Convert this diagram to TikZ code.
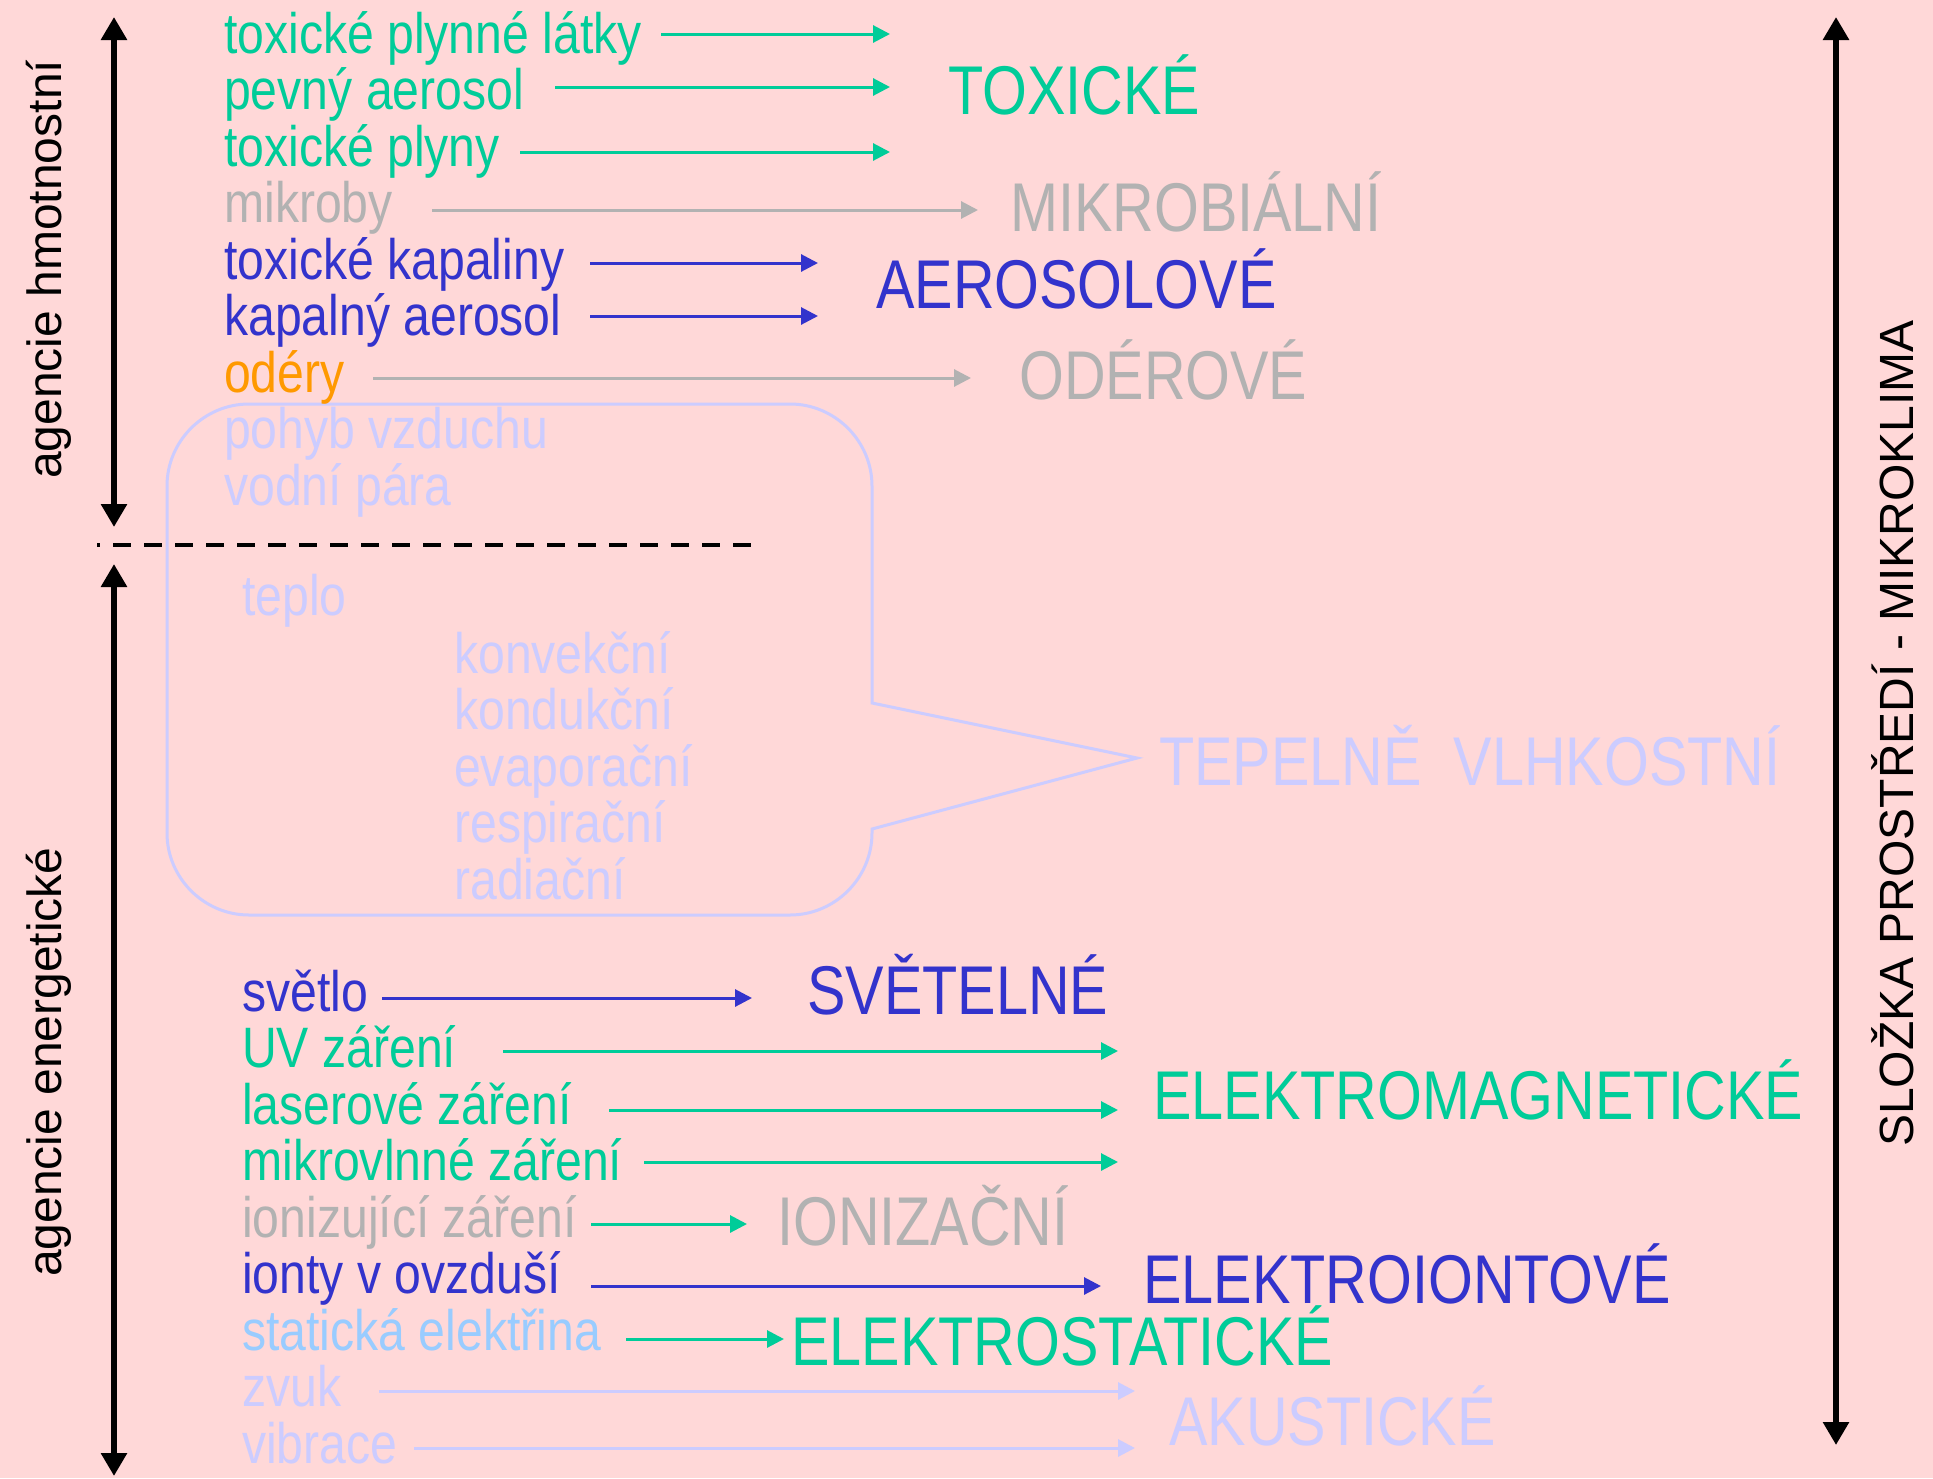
\documentclass[tikz,border=0pt]{standalone}
\usepackage{fontspec}
\usetikzlibrary{arrows.meta}
\newfontfamily\narrowfont[FakeStretch=0.845]{Liberation Sans}
\newfontfamily\bigfont[FakeStretch=0.835]{Liberation Sans}
\newfontfamily\arialfont{Liberation Sans}
\definecolor{bgpink}{HTML}{FFD8D8}
\definecolor{cgreen}{HTML}{00CC99}
\definecolor{cblue}{HTML}{3333CC}
\definecolor{cgray}{HTML}{B2B2B2}
\definecolor{corange}{HTML}{FF9900}
\definecolor{clav}{HTML}{CCCCFF}
\definecolor{clblue}{HTML}{99CCFF}
\tikzset{
  lbl/.style={anchor=base west, inner sep=0pt, font=\narrowfont\fontsize{57}{57}\selectfont},
  big/.style={anchor=base west, inner sep=0pt, font=\bigfont\fontsize{69}{69}\selectfont},
  rot/.style={anchor=base west, inner sep=0pt, rotate=90, font=\arialfont\fontsize{48}{48}\selectfont},
  conn/.style={line width=3pt, -{Triangle[length=17pt,width=17pt]}},
  axis/.style={line width=6.5pt, {Triangle[length=23pt,width=25pt]}-{Triangle[length=23pt,width=25pt]}},
  callout/.style={draw=clav, line width=3pt}
}
\begin{document}
\begin{tikzpicture}[x=1pt,y=-1pt]
\fill[bgpink] (0,0) rectangle (1933,1478);
\useasboundingbox (0,0) rectangle (1933,1478);

% callout
\draw[callout] (249,404) -- (790,404) .. controls (835,404) and (872,441) .. (872,486)
  -- (872,703) -- (1137,758) -- (872,829) -- (872,833)
  .. controls (872,878) and (835,915) .. (790,915) -- (249,915)
  .. controls (204,915) and (167,878) .. (167,833) -- (167,486)
  .. controls (167,441) and (204,404) .. (249,404) -- cycle;

% axes
\coordinate (u1) at (114,17); \coordinate (u2) at (114,527);
\coordinate (d1) at (114,564); \coordinate (d2) at (114,1476);
\coordinate (r1) at (1836,17); \coordinate (r2) at (1836,1445);
\draw[axis] (u1) -- (u2);
\draw[axis] (d1) -- (d2);
\draw[axis] (r1) -- (r2);
\coordinate (ds1) at (97,545); \coordinate (ds2) at (751,545);
\draw[line width=4.5pt, dash pattern=on 18pt off 13pt, dash phase=15pt] (ds1) -- (ds2);

% rotated labels
\node[rot] (lh) at (61,479) {agencie hmotnostní};
\node[rot] (le) at (61,1277) {agencie energetické};
\node[rot] (lr) at (1913,1147) {SLOŽKA PROSTŘEDÍ - MIKROKLIMA};

% top list
\node[lbl, text=cgreen] (t1) at (224,53) {toxické plynné látky};
\node[lbl, text=cgreen] (t2) at (224,109.5) {pevný aerosol};
\node[lbl, text=cgreen] (t3) at (224,166) {toxické plyny};
\node[lbl, text=cgray] (t4) at (224,222.5) {mikroby};
\node[lbl, text=cblue] (t5) at (224,279) {toxické kapaliny};
\node[lbl, text=cblue] (t6) at (224,335.5) {kapalný aerosol};
\node[lbl, text=corange] (t7) at (224,392) {odéry};
\node[lbl, text=clav] (t8) at (224,448.5) {pohyb vzduchu};
\node[lbl, text=clav] (t9) at (224,505) {vodní pára};

% heat
\node[lbl, text=clav] (h0) at (242,615) {teplo};
\node[lbl, text=clav] (h1) at (454,673) {konvekční};
\node[lbl, text=clav] (h2) at (454,729.5) {kondukční};
\node[lbl, text=clav] (h3) at (454,786) {evaporační};
\node[lbl, text=clav] (h4) at (454,842.5) {respirační};
\node[lbl, text=clav] (h5) at (454,899) {radiační};

% bottom list
\node[lbl, text=cblue] (b1) at (242,1011) {světlo};
\node[lbl, text=cgreen] (b2) at (242,1067.5) {UV záření};
\node[lbl, text=cgreen] (b3) at (242,1124) {laserové záření};
\node[lbl, text=cgreen] (b4) at (242,1180.5) {mikrovlnné záření};
\node[lbl, text=cgray] (b5) at (242,1237) {ionizující záření};
\node[lbl, text=cblue] (b6) at (242,1293.5) {ionty v ovzduší};
\node[lbl, text=clblue] (b7) at (242,1350) {statická elektřina};
\node[lbl, text=clav] (b8) at (242,1406.5) {zvuk};
\node[lbl, text=clav] (b9) at (242,1463) {vibrace};

% categories
\node[big, text=cgreen] (cTox) at (948,114) {TOXICKÉ};
\node[big, text=cgray] (cMik) at (1010,231) {MIKROBIÁLNÍ};
\node[big, text=cblue] (cAer) at (876,308) {AEROSOLOVÉ};
\node[big, text=cgray] (cOde) at (1019,399) {ODÉROVÉ};
\node[big, text=clav] (cTep) at (1159,785) {TEPELNĚ~~VLHKOSTNÍ};
\node[big, text=cblue] (cSve) at (807,1014) {SVĚTELNÉ};
\node[big, text=cgreen] (cEmg) at (1153,1119) {ELEKTROMAGNETICKÉ};
\node[big, text=cgray] (cIon) at (777,1245) {IONIZAČNÍ};
\node[big, text=cblue] (cEio) at (1143,1303) {ELEKTROIONTOVÉ};
\node[big, text=cgreen] (cEst) at (791,1365) {ELEKTROSTATICKÉ};
\node[big, text=clav] (cAku) at (1169,1445) {AKUSTICKÉ};

% connector end points
\coordinate (a1s) at (661,34);  \coordinate (a1e) at (890,34);
\coordinate (a2s) at (555,87);  \coordinate (a2e) at (890,87);
\coordinate (a3s) at (520,152); \coordinate (a3e) at (890,152);
\coordinate (a4s) at (432,210); \coordinate (a4e) at (978,210);
\coordinate (a5s) at (590,263); \coordinate (a5e) at (818,263);
\coordinate (a6s) at (590,316); \coordinate (a6e) at (818,316);
\coordinate (a7s) at (373,378); \coordinate (a7e) at (971,378);
\coordinate (c1s) at (382,998);  \coordinate (c1e) at (752,998);
\coordinate (c2s) at (503,1051); \coordinate (c2e) at (1118,1051);
\coordinate (c3s) at (609,1110); \coordinate (c3e) at (1118,1110);
\coordinate (c4s) at (644,1162); \coordinate (c4e) at (1118,1162);
\coordinate (c5s) at (591,1224); \coordinate (c5e) at (747,1224);
\coordinate (c6s) at (591,1286); \coordinate (c6e) at (1101,1286);
\coordinate (c7s) at (626,1339); \coordinate (c7e) at (784,1339);
\coordinate (c8s) at (379,1391); \coordinate (c8e) at (1135,1391);
\coordinate (c9s) at (414,1448); \coordinate (c9e) at (1135,1448);

\draw[conn, cgreen] (a1s) -- (a1e);
\draw[conn, cgreen] (a2s) -- (a2e);
\draw[conn, cgreen] (a3s) -- (a3e);
\draw[conn, cgray] (a4s) -- (a4e);
\draw[conn, cblue] (a5s) -- (a5e);
\draw[conn, cblue] (a6s) -- (a6e);
\draw[conn, cgray] (a7s) -- (a7e);
\draw[conn, cblue] (c1s) -- (c1e);
\draw[conn, cgreen] (c2s) -- (c2e);
\draw[conn, cgreen] (c3s) -- (c3e);
\draw[conn, cgreen] (c4s) -- (c4e);
\draw[conn, cgreen] (c5s) -- (c5e);
\draw[conn, cblue] (c6s) -- (c6e);
\draw[conn, cgreen] (c7s) -- (c7e);
\draw[conn, clav] (c8s) -- (c8e);
\draw[conn, clav] (c9s) -- (c9e);
\end{tikzpicture}
\end{document}
